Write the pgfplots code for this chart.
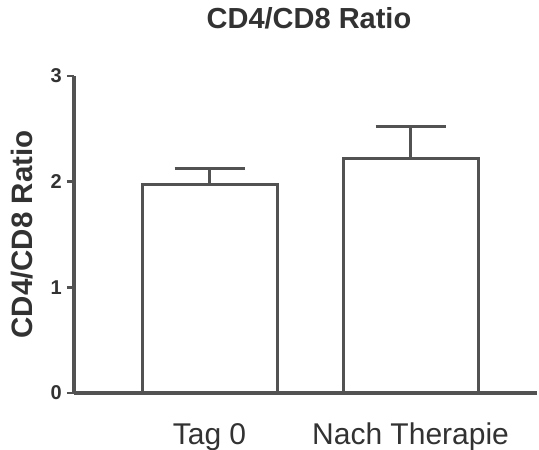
\documentclass[border=0pt]{standalone}
\usepackage{pgfplots}
\pgfplotsset{compat=1.18}
\usepackage{fontspec}
\setmainfont{Liberation Sans}
\definecolor{linegray}{RGB}{82,82,82}
\definecolor{txtgray}{RGB}{50,50,50}
\begin{document}
\begin{tikzpicture}
\useasboundingbox (0,0) rectangle (539bp,450bp);
\begin{axis}[
  at={(74bp,57bp)}, anchor=south west,
  scale only axis, width=463bp, height=317bp,
  xmin=-0.674, xmax=1.629, ymin=0, ymax=3,
  axis lines=left,
  axis line style={-, line width=3bp, color=linegray},
  clip=false,
  xtick={0,1}, xticklabels={Tag 0, Nach Therapie},
  x tick style={draw=none}, major x tick style={draw=none},
  xticklabel style={anchor=base, yshift=-44bp, inner sep=0pt, font=\fontsize{30bp}{36bp}\selectfont, text=txtgray},
  ytick={0,1,2,3},
  y tick style={line width=2.5bp, color=linegray},
  tick align=outside, major tick length=7bp,
  yticklabel style={anchor=east, inner sep=0pt, xshift=-5bp, font=\bfseries\fontsize{20bp}{22bp}\selectfont, text=txtgray},
  /pgf/number format/assume math mode=true,
  title={CD4/CD8 Ratio},
  title style={at={(rel axis cs:0.5,1)}, anchor=base, yshift=42bp, xshift=3.5bp, inner sep=0pt, font=\bfseries\fontsize{29bp}{34bp}\selectfont, text=txtgray},
  ylabel={CD4/CD8 Ratio},
  every axis y label/.style={at={(rel axis cs:0,0.5)}, rotate=90, anchor=base, yshift=41bp, inner sep=0pt, font=\bfseries\fontsize{29.5bp}{34bp}\selectfont, text=txtgray},
]
\addplot[ybar, bar width=135bp, fill=white, draw=linegray, line width=3bp,
  error bars/.cd, y dir=plus, y explicit,
  error bar style={line width=3bp, color=linegray},
  error mark options={rotate=90, mark size=35bp, line width=3bp, color=linegray}]
  coordinates {(0,1.97) +- (0,0.15) (1,2.22) +- (0,0.30)};
\end{axis}
\end{tikzpicture}
\end{document}
